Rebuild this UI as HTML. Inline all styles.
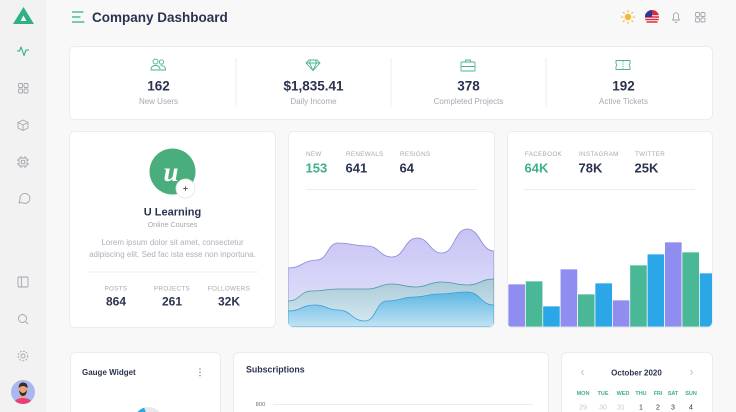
<!DOCTYPE html>
<html><head><meta charset="utf-8">
<style>
html,body{margin:0;padding:0;width:736px;height:412px;overflow:hidden;background:#f8f8f9;}
svg{display:block;font-family:"Liberation Sans",sans-serif;}
</style></head>
<body>
<svg width="736" height="412" viewBox="0 0 736 412" xmlns="http://www.w3.org/2000/svg">
<defs>
  <linearGradient id="gp" x1="0" y1="0" x2="0" y2="1"><stop offset="0" stop-color="#c6c3f4"/><stop offset="1" stop-color="#e6e5fb"/></linearGradient>
  <linearGradient id="gt" x1="0" y1="0" x2="0" y2="1"><stop offset="0" stop-color="#a8cad8"/><stop offset="1" stop-color="#d9ebf2"/></linearGradient>
  <linearGradient id="gb" x1="0" y1="0" x2="0" y2="1"><stop offset="0" stop-color="#5eb6e3"/><stop offset="1" stop-color="#c2e3f4"/></linearGradient>
  <clipPath id="c2"><rect x="288" y="131" width="206" height="196" rx="5"/></clipPath>
  <clipPath id="c3"><rect x="507" y="131" width="205" height="196" rx="5"/></clipPath>
  <clipPath id="cav"><circle cx="23" cy="392" r="12"/></clipPath>
  <clipPath id="cg"><rect x="70" y="352" width="150" height="60"/></clipPath>
</defs>

<!-- sidebar -->
<rect x="0" y="0" width="46" height="412" fill="#f2f2f3"/>
<polygon points="13,24 23.5,7 34,24" fill="#2fb085"/>
<polygon points="20.5,21 23.5,15.5 26.5,21" fill="#f2f2f3"/>
<polyline points="17,51 19.5,51 21,47 24,55.5 26,50 29,50" fill="none" stroke="#2fb085" stroke-width="1.1" stroke-linejoin="round"/>
<g fill="none" stroke="#a3a6ae" stroke-width="0.9">
  <rect x="18.5" y="83.5" width="4" height="4" rx="1"/><rect x="24" y="83.5" width="4" height="4" rx="1"/>
  <rect x="18.5" y="89" width="4" height="4" rx="1"/><rect x="24" y="89" width="4" height="4" rx="1"/>
  <polygon points="23,120 28,122.5 28,128 23,130.5 18,128 18,122.5"/><polyline points="18,122.5 23,125 28,122.5"/><line x1="23" y1="125" x2="23" y2="130.5"/>
  <rect x="19" y="158" width="8" height="8" rx="1"/><rect x="21.3" y="160.3" width="3.4" height="3.4"/>
  <path d="M21,156v2M25,156v2M21,166v2M25,166v2M17,160h2M17,164h2M27,160h2M27,164h2"/>
  <path d="M19,203 L20,199.5 A5,5 0 1 1 22,202.5 Z"/>
  <rect x="18" y="277" width="10" height="10" rx="1"/><line x1="21.5" y1="277" x2="21.5" y2="287"/>
  <circle cx="22.5" cy="318.5" r="4"/><line x1="25.5" y1="321.5" x2="28" y2="324"/>
  <circle cx="23" cy="356" r="2"/><circle cx="23" cy="356" r="4.8" stroke-dasharray="2 1.2"/>
</g>
<circle cx="23" cy="392" r="12" fill="#aab8f0"/>
<g clip-path="url(#cav)">
  <ellipse cx="23" cy="405" rx="10" ry="7" fill="#ef3f72"/>
  <rect x="20.5" y="393" width="5" height="5" fill="#e9a27c"/>
  <ellipse cx="23" cy="389" rx="4.5" ry="5" fill="#e9a27c"/>
  <path d="M18.5,388 Q19,382 23.5,382.5 Q28,383 27.5,388 L26,387 Q23,385 20,387 Z" fill="#3a2a2a"/>
  <path d="M19,390 Q19.5,396 23,396 Q26.5,396 27,390 Q25,393 23,393 Q21,393 19,390 Z" fill="#3a2a2a"/>
</g>

<!-- header -->
<g stroke="#2fb085" stroke-width="1.2" stroke-linecap="round">
  <line x1="72.5" y1="12" x2="83" y2="12"/><line x1="72.5" y1="17" x2="80" y2="17"/><line x1="72.5" y1="22" x2="84" y2="22"/>
</g>
<text x="92" y="22" font-size="13.5" font-weight="bold" fill="#2c3350">Company Dashboard</text>
<g>
  <circle cx="628" cy="17" r="3.2" fill="#f5b82e"/>
  <g stroke="#f5b82e" stroke-width="1.1" stroke-linecap="round">
    <line x1="628" y1="10.5" x2="628" y2="11.8"/><line x1="628" y1="22.2" x2="628" y2="23.5"/>
    <line x1="621.5" y1="17" x2="622.8" y2="17"/><line x1="633.2" y1="17" x2="634.5" y2="17"/>
    <line x1="623.4" y1="12.4" x2="624.3" y2="13.3"/><line x1="631.7" y1="20.7" x2="632.6" y2="21.6"/>
    <line x1="632.6" y1="12.4" x2="631.7" y2="13.3"/><line x1="624.3" y1="20.7" x2="623.4" y2="21.6"/>
  </g>
  <circle cx="652" cy="17" r="7" fill="#fff"/>
  <path d="M645.3,14.5h13.4M645,17h14M645.3,19.5h13.4M646.5,22h11" stroke="#d92b3e" stroke-width="1.4"/>
  <path d="M652,10 A7,7 0 0 0 645,17 L652,17 Z" fill="#2b3a8f"/>
  <path d="M652,10 A7,7 0 0 1 658.4,14 L652,14 Z" fill="#d92b3e"/>
  <g fill="none" stroke="#a3a6ae" stroke-width="0.9">
    <path d="M672.5,20 L673.5,18.5 L673.5,15.5 A2.5,2.7 0 0 1 678.5,15.5 L678.5,18.5 L679.5,20 Z"/>
    <path d="M675,21.5 A1,1 0 0 0 677,21.5"/>
    <rect x="695.5" y="12.5" width="4" height="4" rx="1"/><rect x="701" y="12.5" width="4" height="4" rx="1"/>
    <rect x="695.5" y="18" width="4" height="4" rx="1"/><rect x="701" y="18" width="4" height="4" rx="1"/>
  </g>
</g>

<!-- stats card -->
<rect x="69.5" y="46.5" width="643" height="73" rx="5" fill="#fff" stroke="#ececf0"/>
<g stroke="#ededf0"><line x1="236" y1="58" x2="236" y2="107"/><line x1="391" y1="58" x2="391" y2="107"/><line x1="546" y1="58" x2="546" y2="107"/></g>
<g fill="none" stroke="#4db394" stroke-width="0.9">
  <circle cx="155.5" cy="61.5" r="2.5"/><path d="M151,70 Q151,65.5 155.5,65.5 Q160,65.5 160,70 Z"/>
  <circle cx="161.5" cy="62" r="2.2"/><path d="M160.5,65.7 Q165.5,65.3 165.5,70 L160.5,70"/>
  <path d="M309,60 L317,60 L320,63 L313,70.5 L306,63 Z M306,63 L320,63 M310.5,60 L309.5,63 L313,70.5 L316.5,63 L315.5,60"/>
  <rect x="461" y="62" width="14" height="9" rx="0.8"/><path d="M465.5,62 V60 H470.5 V62 M461,66.5 H475"/>
  <path d="M616,60.5 H630 V63.5 Q628.3,65 630,66.5 V69.5 H616 V66.5 Q617.7,65 616,63.5 Z"/><path d="M623,61 V69" stroke-dasharray="1.2 1.2"/>
</g>
<g font-size="13.5" font-weight="bold" fill="#2c3350" text-anchor="middle">
  <text x="158.5" y="90.5">162</text><text x="313.5" y="90.5">$1,835.41</text><text x="468.5" y="90.5">378</text><text x="623.5" y="90.5">192</text>
</g>
<g font-size="8" fill="#a5a8b3" text-anchor="middle">
  <text x="158.5" y="104">New Users</text><text x="313.5" y="104">Daily Income</text><text x="468.5" y="104">Completed Projects</text><text x="623.5" y="104">Active Tickets</text>
</g>

<!-- card 1 profile -->
<rect x="69.5" y="131.5" width="206" height="196" rx="5" fill="#fff" stroke="#ececf0"/>
<circle cx="172.5" cy="171.5" r="23" fill="#4aae7c"/>
<text x="171" y="181" font-size="27" font-style="italic" font-weight="bold" fill="#fff" text-anchor="middle" font-family="Liberation Serif, serif">u</text>
<circle cx="185.5" cy="188.5" r="9.5" fill="#fff" stroke="#e6e6ea" stroke-width="0.8"/>
<path d="M183.3,188.5h4.4M185.5,186.3v4.4" stroke="#555" stroke-width="0.9"/>
<text x="172.5" y="215.5" font-size="11" font-weight="bold" fill="#2c3350" text-anchor="middle">U Learning</text>
<text x="172.5" y="227" font-size="7.2" fill="#a5a8b3" text-anchor="middle">Online Courses</text>
<text x="172.5" y="245" font-size="8" fill="#adb0ba" text-anchor="middle">Lorem ipsum dolor sit amet, consectetur</text>
<text x="172.5" y="257" font-size="8" fill="#adb0ba" text-anchor="middle">adipiscing elit. Sed fac ista esse non inportuna.</text>
<line x1="87" y1="272" x2="258" y2="272" stroke="#ededf0"/>
<g font-size="6.3" fill="#a5a8b3" text-anchor="middle" letter-spacing="0.3">
  <text x="116" y="290.5">POSTS</text><text x="172" y="290.5">PROJECTS</text><text x="229" y="290.5">FOLLOWERS</text>
</g>
<g font-size="12" font-weight="bold" fill="#2c3350" text-anchor="middle">
  <text x="116" y="305.5">864</text><text x="172" y="305.5">261</text><text x="229" y="305.5">32K</text>
</g>

<!-- card 2 areas -->
<rect x="288.5" y="131.5" width="206" height="196" rx="5" fill="#fff" stroke="#ececf0"/>
<g font-size="6.3" fill="#a5a8b3" letter-spacing="0.3">
  <text x="306" y="156">NEW</text><text x="346" y="156">RENEWALS</text><text x="400" y="156">RESIGNS</text>
</g>
<g font-size="13" font-weight="bold" fill="#2c3350">
  <text x="305.5" y="172.5" fill="#3fae8c">153</text><text x="345.5" y="172.5">641</text><text x="399.5" y="172.5">64</text>
</g>
<line x1="306" y1="189.5" x2="477" y2="189.5" stroke="#ededf0"/>
<g clip-path="url(#c2)">
  <path d="M288,268 C302.5,268 302.5,260 317,260 C327.5,260 327.5,243 338,243 C352.5,243 352.5,246 367,246 C379.5,246 379.5,257 392,257 C404.5,257 404.5,238 417,238 C429.5,238 429.5,253 442,253 C454.5,253 454.5,229 467,229 C480.5,229 480.5,251 494,251 L494,327 L288,327 Z" fill="url(#gp)" stroke="#8a87d8" stroke-width="0.8"/>
  <path d="M288,301 C300,301 300,291 312,291 C325,291 325,289 338,289 C352.5,289 352.5,289 367,289 C379.5,289 379.5,284 392,284 C403.5,284 403.5,287 415,287 C428.5,287 428.5,282 442,282 C454.5,282 454.5,285 467,285 C480.5,285 480.5,279 494,279 L494,327 L288,327 Z" fill="url(#gt)" stroke="#4a97a5" stroke-width="0.8"/>
  <path d="M288,311 C301.5,311 301.5,305 315,305 C326.5,305 326.5,310 338,310 C351.5,310 351.5,321 365,321 C376,321 376,301 387,301 C401,301 401,297 415,297 C426.5,297 426.5,294 438,294 C452.5,294 452.5,292 467,292 C480.5,292 480.5,305 494,305 L494,327 L288,327 Z" fill="url(#gb)" stroke="#3a9fd5" stroke-width="0.8"/>
</g>

<!-- card 3 bars -->
<rect x="507.5" y="131.5" width="205" height="196" rx="5" fill="#fff" stroke="#ececf0"/>
<g font-size="6.3" fill="#a5a8b3" letter-spacing="0.3">
  <text x="525" y="156">FACEBOOK</text><text x="579" y="156">INSTAGRAM</text><text x="635" y="156">TWITTER</text>
</g>
<g font-size="13" font-weight="bold" fill="#2c3350">
  <text x="524.5" y="172.5" fill="#3fae8c">64K</text><text x="578.5" y="172.5">78K</text><text x="634.5" y="172.5">25K</text>
</g>
<line x1="524" y1="189.5" x2="695" y2="189.5" stroke="#ededf0"/>
<g clip-path="url(#c3)" stroke="#fff" stroke-width="0.7">
  <rect x="508" y="284" width="17.4" height="43" fill="#8f8ef0"/>
  <rect x="525.4" y="281" width="17.4" height="46" fill="#4ab797"/>
  <rect x="542.8" y="306" width="17.4" height="21" fill="#2ba6e6"/>
  <rect x="560.2" y="269" width="17.4" height="58" fill="#8f8ef0"/>
  <rect x="577.6" y="294" width="17.4" height="33" fill="#4ab797"/>
  <rect x="595" y="283" width="17.4" height="44" fill="#2ba6e6"/>
  <rect x="612.4" y="300" width="17.4" height="27" fill="#8f8ef0"/>
  <rect x="629.8" y="265" width="17.4" height="62" fill="#4ab797"/>
  <rect x="647.2" y="254" width="17.4" height="73" fill="#2ba6e6"/>
  <rect x="664.6" y="242" width="17.4" height="85" fill="#8f8ef0"/>
  <rect x="682" y="252" width="17.4" height="75" fill="#4ab797"/>
  <rect x="699.4" y="273" width="17.4" height="54" fill="#2ba6e6"/>
</g>

<!-- row 3 -->
<rect x="70.5" y="352.5" width="150" height="70" rx="5" fill="#fff" stroke="#ececf0"/>
<text x="82" y="375" font-size="8" font-weight="bold" fill="#2c3350">Gauge Widget</text>
<g fill="#8a8d96"><circle cx="200" cy="369" r="0.8"/><circle cx="200" cy="372.3" r="0.8"/><circle cx="200" cy="375.6" r="0.8"/></g>
<g clip-path="url(#cg)">
  <path d="M138,416 A12,12 0 0 1 158,414" fill="none" stroke="#e8e9ec" stroke-width="5"/>
  <path d="M138,416 A12,12 0 0 1 145,410" fill="none" stroke="#2ba6e6" stroke-width="5"/>
</g>

<rect x="233.5" y="352.5" width="315" height="70" rx="5" fill="#fff" stroke="#ececf0"/>
<text x="246" y="372.5" font-size="8.8" font-weight="bold" fill="#2c3350">Subscriptions</text>
<text x="260.5" y="406" font-size="5.8" fill="#6c6f78" text-anchor="middle">800</text>
<line x1="273" y1="404.5" x2="533" y2="404.5" stroke="#ededf0"/>

<rect x="561.5" y="352.5" width="151" height="70" rx="5" fill="#fff" stroke="#ececf0"/>
<text x="636.5" y="375.5" font-size="8" font-weight="bold" fill="#2c3350" text-anchor="middle">October 2020</text>
<g fill="none" stroke="#b8bac2" stroke-width="0.8"><polyline points="583.5,370 581.5,372.5 583.5,375"/><polyline points="690.5,370 692.5,372.5 690.5,375"/></g>
<g font-size="5.5" font-weight="bold" fill="#3fae8c" text-anchor="middle">
  <text x="583" y="395">MON</text><text x="603" y="395">TUE</text><text x="623" y="395">WED</text><text x="641" y="395">THU</text><text x="658" y="395">FRI</text><text x="673" y="395">SAT</text><text x="691" y="395">SUN</text>
</g>
<g font-size="7" text-anchor="middle">
  <text x="583" y="409.5" fill="#c6c8ce">29</text><text x="603" y="409.5" fill="#c6c8ce">30</text><text x="621" y="409.5" fill="#c6c8ce">31</text>
  <text x="641" y="409.5" fill="#2c3350">1</text><text x="658" y="409.5" fill="#2c3350">2</text><text x="673" y="409.5" fill="#2c3350">3</text><text x="691" y="409.5" fill="#2c3350">4</text>
</g>
</svg>
</body></html>
